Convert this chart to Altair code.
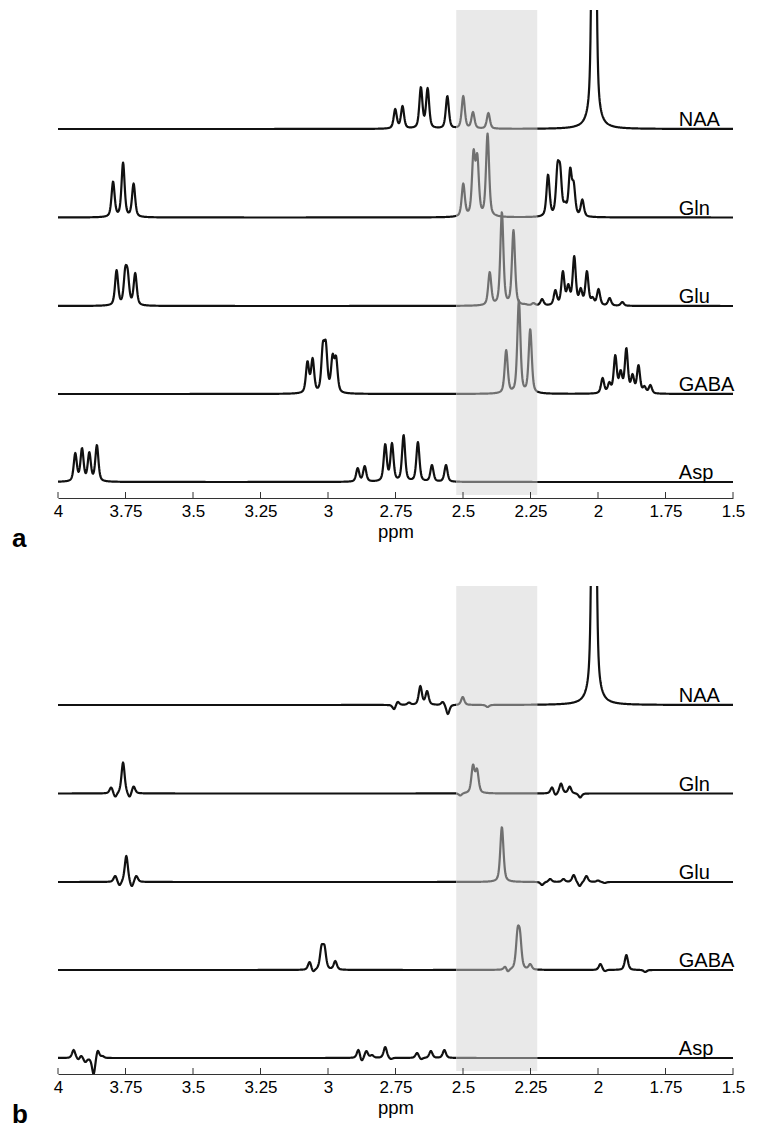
import numpy as np
import pandas as pd
import altair as alt

# ---------------- data ----------------
TICKS = [4, 3.75, 3.5, 3.25, 3, 2.75, 2.5, 2.25, 2, 1.75, 1.5]
BAND = [2.525, 2.225]                      # shaded ppm window
METABOLITES = ["NAA", "Gln", "Glu", "GABA", "Asp"]
OFFSETS = [369, 280.5, 192, 104, 16]       # vertical stacking of the traces
PANELS = ["a", "b"]
LINE_HWHM = {"a": 0.0068, "b": 0.007}      # line half-width (ppm)

# panel a : peak positions (ppm) and apparent heights
A_NAA_PPM = [2.751, 2.724, 2.656, 2.631, 2.558, 2.499, 2.463, 2.406, 2.015]
A_NAA_H = [20, 23, 42, 41, 33, 33, 17, 16, 600]
A_GLN_PPM = [3.796, 3.759, 3.720, 2.499, 2.461, 2.447, 2.409, 2.185, 2.150, 2.140,
             2.122, 2.103, 2.090, 2.058]
A_GLN_H = [36, 55, 34, 34, 68, 64, 84, 43, 55, 53, 16, 50, 36, 18]
A_GLU_PPM = [3.783, 3.751, 3.742, 3.714, 2.401, 2.356, 2.313, 2.269, 2.239, 2.207,
             2.158, 2.130, 2.110, 2.088, 2.064, 2.041, 2.020, 1.998, 1.957, 1.910]
A_GLU_H = [36, 39, 37, 33, 34, 94, 76, 2, 3, 7, 16, 35, 22, 50, 18, 35, 9, 17, 8, 4]
A_GABA_PPM = [3.076, 3.057, 3.019, 3.008, 2.983, 2.970, 2.340, 2.293, 2.251, 1.983,
              1.958, 1.936, 1.916, 1.895, 1.872, 1.850, 1.828, 1.806]
A_GABA_H = [33, 36, 52, 53, 40, 38, 44, 94, 65, 16, 12, 39, 24, 46, 20, 29, 8, 9]
A_ASP_PPM = [3.936, 3.911, 3.884, 3.856, 2.890, 2.864, 2.788, 2.763, 2.720, 2.667,
             2.615, 2.563]
A_ASP_H = [29, 34, 30, 37, 14, 16, 38, 39, 47, 40, 17, 17]

# panel b
B_NAA_PPM = [2.755, 2.742, 2.700, 2.658, 2.633, 2.575, 2.556, 2.501, 2.409, 2.015]
B_NAA_H = [-4, 3, 2.5, 19, 14, 3, -9, 8, -2, 600]
B_GLN_PPM = [3.803, 3.788, 3.759, 3.735, 3.720, 2.510, 2.463, 2.448, 2.170, 2.158,
             2.137, 2.105, 2.066]
B_GLN_H = [6, -3, 31, -3, 7, -2, 29, 25, 6, -1, 10, 7, -4]
B_GLU_PPM = [3.788, 3.772, 3.747, 3.727, 3.710, 2.356, 2.207, 2.177, 2.128, 2.090,
             2.068, 2.043, 2.000, 1.975]
B_GLU_H = [6, -3, 26, -4, 6, 55, -3, 3, 3, 7, -4, 6, 1.5, -1]
B_GABA_PPM = [3.068, 3.055, 3.024, 3.013, 2.973, 2.343, 2.335, 2.298, 2.289, 2.251,
              1.991, 1.975, 1.895, 1.825]
B_GABA_H = [8, -1, 25, 25, 9, 3, -1, 42, 40, 6, 6, -1, 15, -2]
B_ASP_PPM = [3.942, 3.923, 3.915, 3.899, 3.868, 3.853, 3.835, 2.887, 2.876, 2.858,
             2.837, 2.788, 2.767, 2.670, 2.655, 2.619, 2.569]
B_ASP_H = [8, -1, 2, -4, -16, 7, 2, 8, -2, 7, 3, 11, -1, 5, -1, 7, 8]

PEAKS = {
    ("a", "NAA"): (A_NAA_PPM, A_NAA_H), ("a", "Gln"): (A_GLN_PPM, A_GLN_H),
    ("a", "Glu"): (A_GLU_PPM, A_GLU_H), ("a", "GABA"): (A_GABA_PPM, A_GABA_H),
    ("a", "Asp"): (A_ASP_PPM, A_ASP_H),
    ("b", "NAA"): (B_NAA_PPM, B_NAA_H), ("b", "Gln"): (B_GLN_PPM, B_GLN_H),
    ("b", "Glu"): (B_GLU_PPM, B_GLU_H), ("b", "GABA"): (B_GABA_PPM, B_GABA_H),
    ("b", "Asp"): (B_ASP_PPM, B_ASP_H),
}

# ---------------- build spectra from the peak lists ----------------
def lineshape(d, g):
    u2 = (d / g) ** 2
    return 0.5 / (1.0 + u2) + 0.5 * np.exp(-np.log(2.0) * u2)

grid = np.unique(np.round(np.concatenate([np.arange(1.5, 4.00001, 0.0015), BAND, [4.0]]), 5))
hi, lo = max(BAND), min(BAND)

frames = []
for p in PANELS:
    g = LINE_HWHM[p]
    for name, off in zip(METABOLITES, OFFSETS):
        pos, h = PEAKS[(p, name)]
        pos = np.array(pos, float)
        h = np.array(h, float)
        M = lineshape(pos[:, None] - pos[None, :], g)
        amp = np.linalg.solve(M, h)
        y = off + (amp[None, :] * lineshape(grid[:, None] - pos[None, :], g)).sum(axis=1)
        parts = [
            ("L", "out", grid >= hi),
            ("M", "in", (grid <= hi) & (grid >= lo)),
            ("R", "out", grid <= lo),
        ]
        for sid, zone, m in parts:
            frames.append(pd.DataFrame({
                "panel": p, "seg": f"{name}-{sid}", "zone": zone,
                "ppm": np.round(grid[m], 4), "y": np.round(y[m], 2),
            }))
df = pd.concat(frames, ignore_index=True)

labels_df = pd.DataFrame({"name": METABOLITES, "off": OFFSETS})
band_df = pd.DataFrame({"ppm": [BAND[0]], "ppm2": [BAND[1]]})
ticks_df = pd.DataFrame({"ppm": TICKS})

WIDTH, HEIGHT = 675, 488
FONT = "Liberation Sans"

def make_panel(p):
    xscale = alt.Scale(domain=[1.5, 4.0], reverse=True, nice=False, zero=False)
    xaxis = alt.Axis(values=TICKS, format=".2~f", ticks=False, tickSize=0, grid=False,
                     domainColor="#333333", domainWidth=1, labelFont=FONT,
                     labelFontSize=17, labelColor="black", labelPadding=18.5,
                     labelBaseline="alphabetic", labelFlush=False,
                     title="ppm", titleFont=FONT, titleFontSize=18.5,
                     titleFontWeight="normal", titleColor="black",
                     titleBaseline="alphabetic", titleY=39)
    X = alt.X("ppm:Q", scale=xscale, axis=xaxis)
    yscale = alt.Scale(domain=[0, HEIGHT], nice=False, zero=False)

    band = alt.Chart(band_df).mark_rect(color="#e9e9e9").encode(
        x=X, x2="ppm2:Q", y=alt.value(0), y2=alt.value(HEIGHT - 3))

    lines = alt.Chart(df[df.panel == p]).mark_line(
        clip=True, strokeWidth=2.2, strokeJoin="round").encode(
        x=X,
        y=alt.Y("y:Q", scale=yscale, axis=None),
        color=alt.Color("zone:N", scale=alt.Scale(domain=["out", "in"],
                                                  range=["#111111", "#707070"]),
                        legend=None),
        detail="seg:N",
    )

    names = alt.Chart(labels_df).mark_text(
        align="left", baseline="alphabetic", dy=-3, font=FONT, fontSize=20,
        color="black").encode(
        x=alt.value(620.8), y=alt.Y("off:Q", scale=yscale, axis=None), text="name:N")

    ticks = alt.Chart(ticks_df).mark_rule(color="#333333", strokeWidth=1).encode(
        x=X, y=alt.value(HEIGHT), y2=alt.value(HEIGHT - 6))

    letter = alt.Chart(pd.DataFrame({"t": [p]})).mark_text(
        align="left", baseline="alphabetic", font=FONT, fontSize=26,
        fontWeight="bold", color="black").encode(
        text="t:N", x=alt.value(-46), y=alt.value(HEIGHT + 49))

    return alt.layer(band, lines, names, ticks, letter).properties(
        width=WIDTH, height=HEIGHT)

chart = alt.vconcat(make_panel("a"), make_panel("b"), spacing=34).properties(
    padding={"left": 4, "top": 2, "right": 5, "bottom": 0}
).configure_view(stroke=None)

chart.save("out.html", embed_options={"renderer": "svg", "actions": False})
